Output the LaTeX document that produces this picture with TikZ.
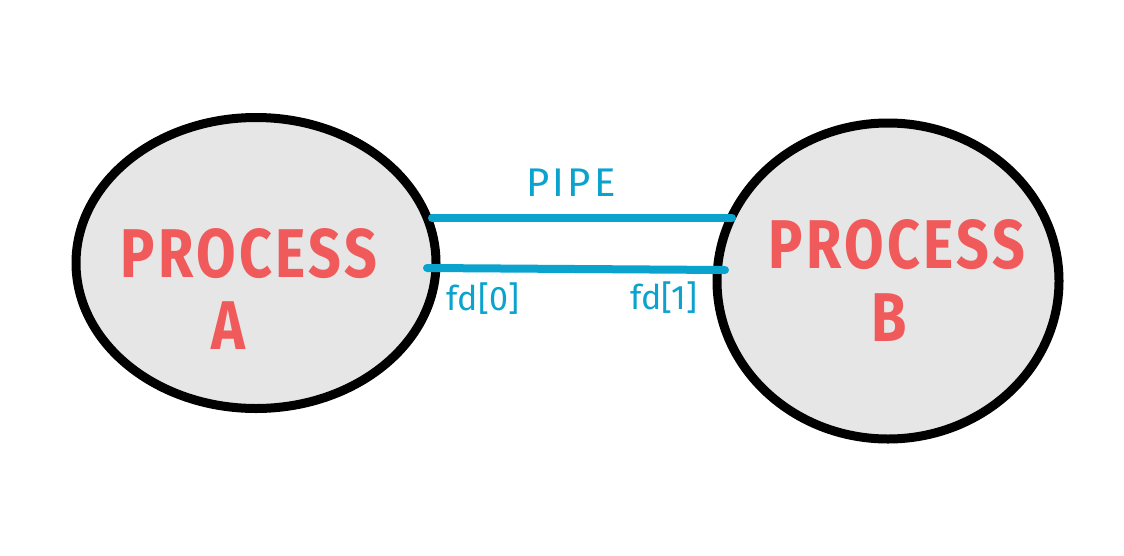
\documentclass[tikz,border=0pt]{standalone}
\usepackage{fontspec}
\setmainfont{Fira Sans}
\usetikzlibrary{shapes.geometric}
\definecolor{procred}{HTML}{F05A5A}
\definecolor{pipeblue}{HTML}{0AA3CE}
\definecolor{procfill}{HTML}{E6E6E6}
\newcommand{\proctext}[1]{\scalebox{0.83}[1.0]{\addfontfeature{LetterSpace=6}#1}}
\begin{document}
\begin{tikzpicture}[x=1pt,y=-1pt,
  proc/.style={ellipse,draw=black,fill=procfill,line width=9pt,inner sep=0pt},
  ptext/.style={text=procred,font=\fontsize{69}{69}\selectfont\bfseries,inner sep=0pt,anchor=center},
  pipeline/.style={draw=pipeblue,line width=8pt,line cap=round},
  btext/.style={text=pipeblue,font=\fontsize{34}{34}\selectfont,inner sep=0pt,anchor=center}]
\useasboundingbox (0,0) rectangle (1124,555);
\fill[white] (0,0) rectangle (1124,555);
\node[proc,minimum width=360pt,minimum height=291pt] (A) at (256,263) {};
\node[proc,minimum width=342pt,minimum height=316pt] (B) at (888,281) {};
\node[ptext] (pa) at (249,254) {\proctext{PROCESS}};
\node[ptext] (pa2) at (228,326) {\proctext{A}};
\node[ptext] (pb) at (897,245) {\proctext{PROCESS}};
\node[ptext] (pb2) at (889,318) {\proctext{B}};
\coordinate (t1) at (432,218);
\coordinate (t2) at (732,218);
\coordinate (b1) at (427,268);
\coordinate (b2) at (725,270);
\draw[pipeline] (t1) -- (t2);
\draw[pipeline] (b1) -- (b2);
\node[btext,font=\fontsize{40}{40}\selectfont] (pipe) at (571,183) {\addfontfeature{LetterSpace=8}PIPE};
\node[btext] (fd0) at (483,299) {fd[0]};
\node[btext] (fd1) at (664,298) {fd[1]};
\end{tikzpicture}
\end{document}
